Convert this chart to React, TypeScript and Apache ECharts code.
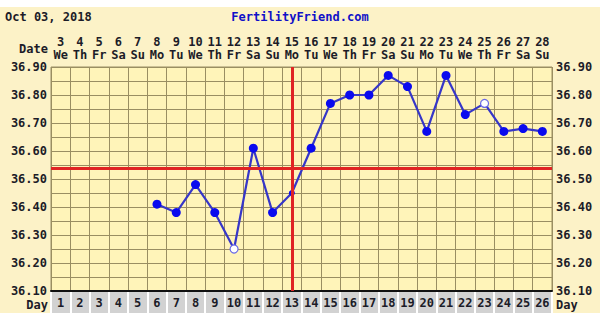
import React, { useEffect, useRef } from "react";
import * as echarts from "echarts";

const dayNumbers = ["1","2","3","4","5","6","7","8","9","10","11","12","13","14","15","16","17","18","19","20","21","22","23","24","25","26"];
const dates = ["3","4","5","6","7","8","9","10","11","12","13","14","15","16","17","18","19","20","21","22","23","24","25","26","27","28"];
const weekdays = ["We","Th","Fr","Sa","Su","Mo","Tu","We","Th","Fr","Sa","Su","Mo","Tu","We","Th","Fr","Sa","Su","Mo","Tu","We","Th","Fr","Sa","Su"];
const temps: (number | null)[] = [null,null,null,null,null,36.41,36.38,36.48,36.38,36.25,36.61,36.38,36.45,36.61,36.77,36.80,36.80,36.87,36.83,36.67,36.87,36.73,36.77,36.67,36.68,36.67];
const openDays = ["10", "23"];
const smallDays = ["13"];
const coverline = 36.54;
const ovulationDay = "13";
const yMin = 36.1;
const yMax = 36.9;
const yStep = 0.05;

const FONT = "DejaVu Sans Mono";
const TXT = "#1c1c28";
const GRIDC = "#9a8e62";

export default function App() {
  const ref = useRef<HTMLDivElement>(null);
  useEffect(() => {
    document.body.style.margin = "0";
    const chart = echarts.init(ref.current!, undefined, { renderer: "svg" });
    const labelFmt = (v: number) => (Math.round(v * 100) % 10 === 0 ? v.toFixed(2) : "");
    const lbl = { fontFamily: FONT, fontWeight: "bold" as const, fontSize: 12, color: TXT };
    const data = temps.map((t, i) => {
      if (t === null) return null;
      const d = dayNumbers[i];
      if (openDays.includes(d)) {
        return { value: t, symbolSize: 8, itemStyle: { color: "#ffffff", borderColor: "#6a6ae8", borderWidth: 1.2 } };
      }
      if (smallDays.includes(d)) {
        return { value: t, symbolSize: 6 };
      }
      return t;
    });
    chart.setOption({
      animation: false,
      backgroundColor: "#FCF2C7",
      grid: [
        { left: 51, right: 48, top: 67, height: 224, show: true, backgroundColor: "#FFF4B9", borderColor: GRIDC, borderWidth: 1 },
        { left: 51, right: 48, top: 291, height: 22, show: false },
      ],
      xAxis: [
        {
          gridIndex: 0, type: "category", data: dayNumbers, position: "bottom", boundaryGap: true,
          axisLine: { show: true, lineStyle: { color: "#111", width: 2 } },
          axisTick: { show: false }, axisLabel: { show: false },
          splitLine: { show: true, interval: 0, lineStyle: { color: GRIDC, width: 1 } },
        },
        {
          gridIndex: 0, type: "category", data: dates, position: "top", boundaryGap: true,
          axisLine: { show: false }, axisTick: { show: false },
          axisLabel: {
            ...lbl, interval: 0, margin: 6, lineHeight: 13,
            formatter: (v: string, i: number) => `${v}\n${weekdays[i]}`,
          },
        },
        {
          gridIndex: 1, type: "category", data: dayNumbers, position: "bottom", boundaryGap: true,
          axisLine: { show: false }, axisTick: { show: false },
          axisLabel: { ...lbl, interval: 0, inside: true, margin: 4, verticalAlign: "bottom" },
          splitArea: { show: true, interval: 0, areaStyle: { color: ["#D2D2D2", "#D2D2D2"] } },
          splitLine: { show: true, interval: 0, lineStyle: { color: "#ffffff", width: 2 } },
        },
      ],
      yAxis: [
        {
          gridIndex: 0, type: "value", min: yMin, max: yMax, interval: yStep, position: "left",
          axisLine: { show: false }, axisTick: { show: false },
          axisLabel: { ...lbl, margin: 4, formatter: labelFmt },
          splitLine: { show: true, lineStyle: { color: GRIDC, width: 1 } },
        },
        {
          gridIndex: 0, type: "value", min: yMin, max: yMax, interval: yStep, position: "right",
          axisLine: { show: false }, axisTick: { show: false },
          axisLabel: { ...lbl, margin: 4, formatter: labelFmt },
          splitLine: { show: false },
        },
        { gridIndex: 1, type: "value", min: 0, max: 1, show: false },
      ],
      series: [
        {
          type: "line", xAxisIndex: 0, yAxisIndex: 0, data: [], z: 1, silent: true,
          markLine: {
            silent: true, symbol: "none", label: { show: false },
            lineStyle: { color: "#E02424", width: 3, type: "solid" },
            data: [{ yAxis: coverline }, { xAxis: ovulationDay }],
          },
        },
        {
          type: "line", xAxisIndex: 0, yAxisIndex: 0, data, z: 3,
          connectNulls: false,
          symbol: "circle", symbolSize: 9,
          lineStyle: { color: "#3636C8", width: 2.2 },
          itemStyle: { color: "#0A0AEE" },
        },
      ],
      graphic: [
        { type: "rect", left: 0, top: 0, shape: { width: 600, height: 7 }, style: { fill: "#ffffff" } },
        { type: "text", left: 5, top: 11, style: { text: "Oct 03, 2018", font: `bold 12px ${FONT}`, fill: TXT } },
        { type: "text", x: 300, y: 11, style: { text: "FertilityFriend.com", font: `bold 12px ${FONT}`, fill: "#1010C8", textAlign: "center" } },
        { type: "text", x: 48, y: 43, style: { text: "Date", font: `bold 12px ${FONT}`, fill: TXT, textAlign: "right" } },
        { type: "text", x: 48, y: 299, style: { text: "Day", font: `bold 12px ${FONT}`, fill: TXT, textAlign: "right" } },
        { type: "text", x: 556, y: 299, style: { text: "Day", font: `bold 12px ${FONT}`, fill: TXT, textAlign: "left" } },
      ],
    });
    return () => chart.dispose();
  }, []);
  return <div ref={ref} style={{ width: 600, height: 313 }} />;
}
